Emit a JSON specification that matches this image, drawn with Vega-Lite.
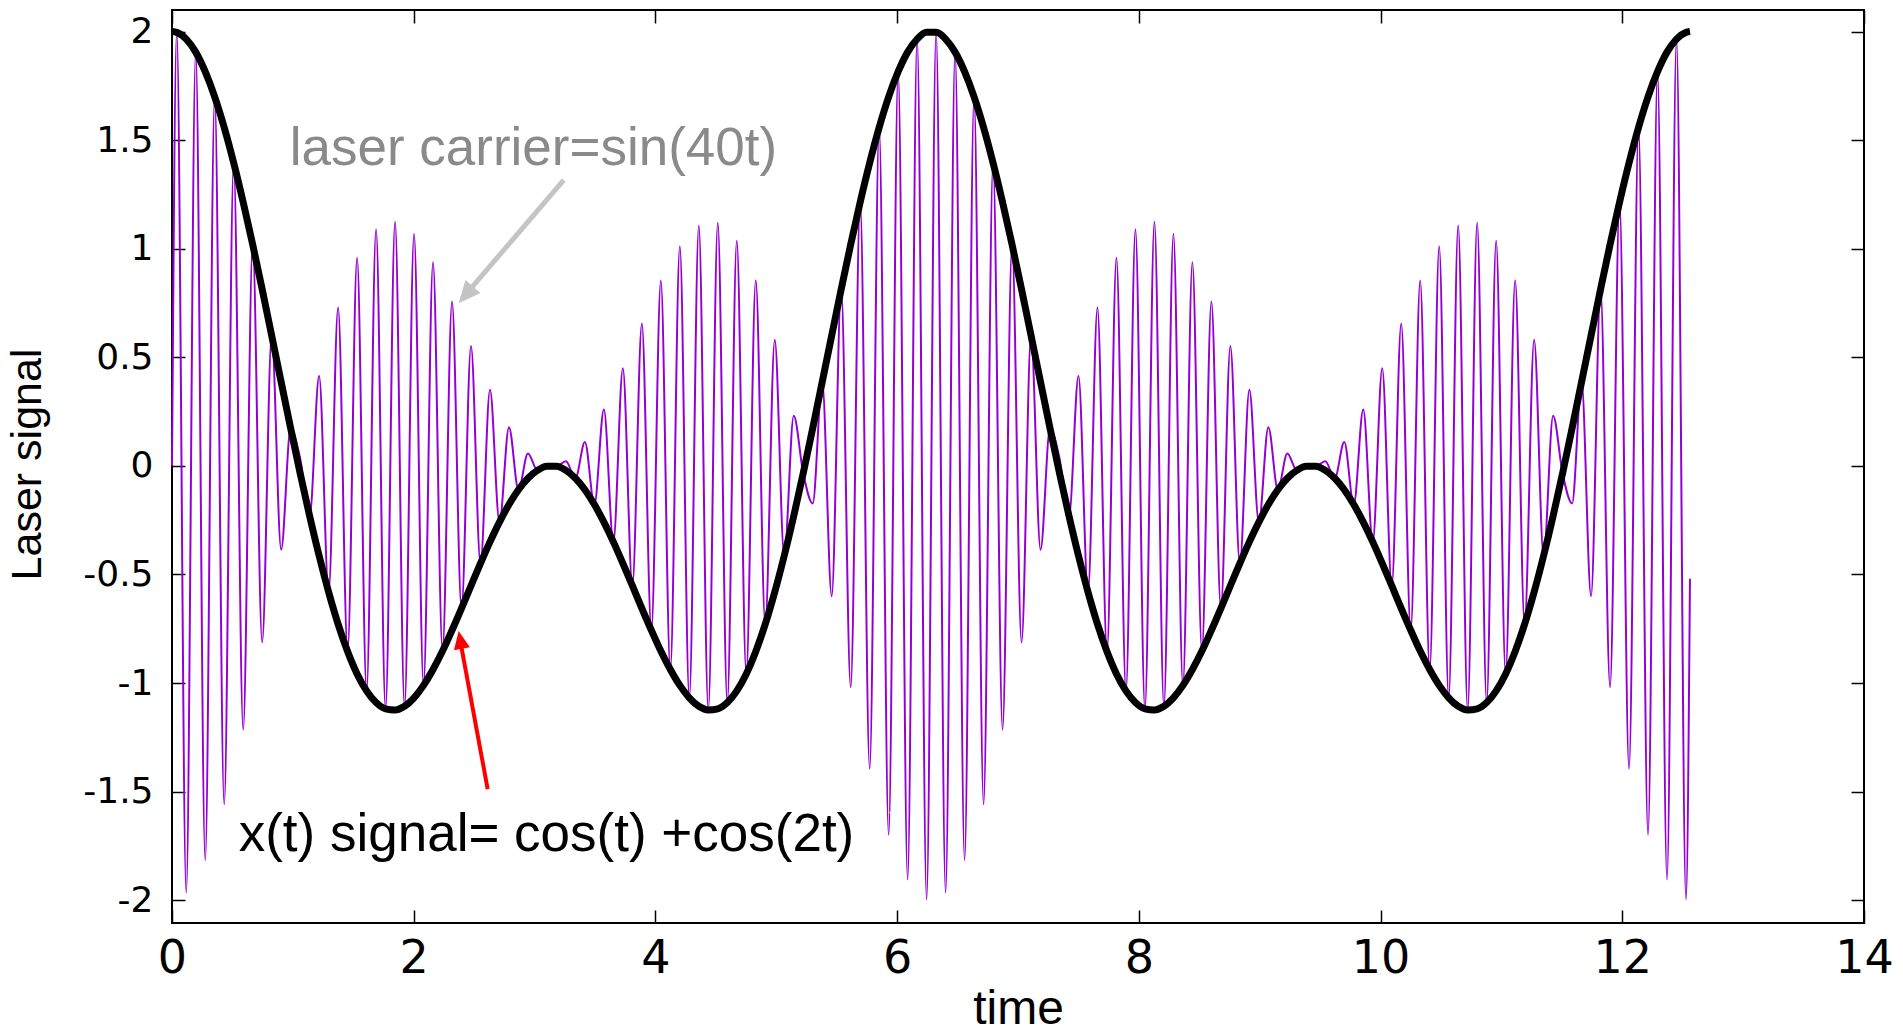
{
  "$schema": "https://vega.github.io/schema/vega-lite/v6.json",
  "width": 1692,
  "height": 913,
  "autosize": {"type": "none"},
  "padding": {"left": 172, "top": 10, "right": 39, "bottom": 111},
  "background": "white",
  "config": {
    "view": {"stroke": "black", "strokeWidth": 2},
    "axis": {"grid": false, "domain": false, "tickColor": "black", "tickWidth": 1.5, "labelColor": "black", "titleColor": "black", "labelFlush": false}
  },
  "datasets": {
    "sig": [
      {"t":0,"e":2,"c":0},
      {"t":0.0393,"e":1.996,"c":1.996},
      {"t":0.1178,"e":1.965,"c":-1.965},
      {"t":0.1963,"e":1.905,"c":1.905},
      {"t":0.2749,"e":1.815,"c":-1.815},
      {"t":0.3534,"e":1.699,"c":1.699},
      {"t":0.432,"e":1.558,"c":-1.558},
      {"t":0.5105,"e":1.395,"c":1.395},
      {"t":0.589,"e":1.214,"c":-1.214},
      {"t":0.6676,"e":1.019,"c":1.019},
      {"t":0.7461,"e":0.813,"c":-0.813},
      {"t":0.8247,"e":0.6,"c":0.6},
      {"t":0.9032,"e":0.386,"c":-0.386},
      {"t":0.9817,"e":0.173,"c":0.173},
      {"t":1.0603,"e":-0.034,"c":0.034},
      {"t":1.1388,"e":-0.231,"c":-0.231},
      {"t":1.2174,"e":-0.414,"c":0.414},
      {"t":1.2959,"e":-0.581,"c":-0.581},
      {"t":1.3744,"e":-0.729,"c":0.729},
      {"t":1.453,"e":-0.855,"c":-0.855},
      {"t":1.5315,"e":-0.958,"c":0.958},
      {"t":1.6101,"e":-1.036,"c":-1.036},
      {"t":1.6886,"e":-1.09,"c":1.09},
      {"t":1.7671,"e":-1.119,"c":-1.119},
      {"t":1.8457,"e":-1.124,"c":1.124},
      {"t":1.9242,"e":-1.107,"c":-1.107},
      {"t":2.0028,"e":-1.068,"c":1.068},
      {"t":2.0813,"e":-1.011,"c":-1.011},
      {"t":2.1598,"e":-0.938,"c":0.938},
      {"t":2.2384,"e":-0.853,"c":-0.853},
      {"t":2.3169,"e":-0.757,"c":0.757},
      {"t":2.3955,"e":-0.656,"c":-0.656},
      {"t":2.474,"e":-0.552,"c":0.552},
      {"t":2.5525,"e":-0.449,"c":-0.449},
      {"t":2.6311,"e":-0.35,"c":0.35},
      {"t":2.7096,"e":-0.259,"c":-0.259},
      {"t":2.7882,"e":-0.178,"c":0.178},
      {"t":2.8667,"e":-0.11,"c":-0.11},
      {"t":2.9452,"e":-0.057,"c":0.057},
      {"t":3.0238,"e":-0.021,"c":-0.021},
      {"t":3.1023,"e":-0.002,"c":0.002},
      {"t":3.1809,"e":-0.002,"c":-0.002},
      {"t":3.2594,"e":-0.021,"c":0.021},
      {"t":3.3379,"e":-0.057,"c":-0.057},
      {"t":3.4165,"e":-0.11,"c":0.11},
      {"t":3.495,"e":-0.178,"c":-0.178},
      {"t":3.5736,"e":-0.259,"c":0.259},
      {"t":3.6521,"e":-0.35,"c":-0.35},
      {"t":3.7306,"e":-0.449,"c":0.449},
      {"t":3.8092,"e":-0.552,"c":-0.552},
      {"t":3.8877,"e":-0.656,"c":0.656},
      {"t":3.9663,"e":-0.757,"c":-0.757},
      {"t":4.0448,"e":-0.853,"c":0.853},
      {"t":4.1233,"e":-0.938,"c":-0.938},
      {"t":4.2019,"e":-1.011,"c":1.011},
      {"t":4.2804,"e":-1.068,"c":-1.068},
      {"t":4.359,"e":-1.107,"c":1.107},
      {"t":4.4375,"e":-1.124,"c":-1.124},
      {"t":4.516,"e":-1.119,"c":1.119},
      {"t":4.5946,"e":-1.09,"c":-1.09},
      {"t":4.6731,"e":-1.036,"c":1.036},
      {"t":4.7517,"e":-0.958,"c":-0.958},
      {"t":4.8302,"e":-0.855,"c":0.855},
      {"t":4.9087,"e":-0.729,"c":-0.729},
      {"t":4.9873,"e":-0.581,"c":0.581},
      {"t":5.0658,"e":-0.414,"c":-0.414},
      {"t":5.1444,"e":-0.231,"c":0.231},
      {"t":5.2229,"e":-0.034,"c":-0.034},
      {"t":5.3014,"e":0.173,"c":-0.173},
      {"t":5.38,"e":0.386,"c":0.386},
      {"t":5.4585,"e":0.6,"c":-0.6},
      {"t":5.5371,"e":0.813,"c":0.813},
      {"t":5.6156,"e":1.019,"c":-1.019},
      {"t":5.6941,"e":1.214,"c":1.214},
      {"t":5.7727,"e":1.395,"c":-1.395},
      {"t":5.8512,"e":1.558,"c":1.558},
      {"t":5.9298,"e":1.699,"c":-1.699},
      {"t":6.0083,"e":1.815,"c":1.815},
      {"t":6.0868,"e":1.905,"c":-1.905},
      {"t":6.1654,"e":1.965,"c":1.965},
      {"t":6.2439,"e":1.996,"c":-1.996},
      {"t":6.3225,"e":1.996,"c":1.996},
      {"t":6.401,"e":1.965,"c":-1.965},
      {"t":6.4795,"e":1.905,"c":1.905},
      {"t":6.5581,"e":1.815,"c":-1.815},
      {"t":6.6366,"e":1.699,"c":1.699},
      {"t":6.7152,"e":1.558,"c":-1.558},
      {"t":6.7937,"e":1.395,"c":1.395},
      {"t":6.8722,"e":1.214,"c":-1.214},
      {"t":6.9508,"e":1.019,"c":1.019},
      {"t":7.0293,"e":0.813,"c":-0.813},
      {"t":7.1079,"e":0.6,"c":0.6},
      {"t":7.1864,"e":0.386,"c":-0.386},
      {"t":7.2649,"e":0.173,"c":0.173},
      {"t":7.3435,"e":-0.034,"c":0.034},
      {"t":7.422,"e":-0.231,"c":-0.231},
      {"t":7.5006,"e":-0.414,"c":0.414},
      {"t":7.5791,"e":-0.581,"c":-0.581},
      {"t":7.6576,"e":-0.729,"c":0.729},
      {"t":7.7362,"e":-0.855,"c":-0.855},
      {"t":7.8147,"e":-0.958,"c":0.958},
      {"t":7.8933,"e":-1.036,"c":-1.036},
      {"t":7.9718,"e":-1.09,"c":1.09},
      {"t":8.0503,"e":-1.119,"c":-1.119},
      {"t":8.1289,"e":-1.124,"c":1.124},
      {"t":8.2074,"e":-1.107,"c":-1.107},
      {"t":8.286,"e":-1.068,"c":1.068},
      {"t":8.3645,"e":-1.011,"c":-1.011},
      {"t":8.443,"e":-0.938,"c":0.938},
      {"t":8.5216,"e":-0.853,"c":-0.853},
      {"t":8.6001,"e":-0.757,"c":0.757},
      {"t":8.6787,"e":-0.656,"c":-0.656},
      {"t":8.7572,"e":-0.552,"c":0.552},
      {"t":8.8357,"e":-0.449,"c":-0.449},
      {"t":8.9143,"e":-0.35,"c":0.35},
      {"t":8.9928,"e":-0.259,"c":-0.259},
      {"t":9.0714,"e":-0.178,"c":0.178},
      {"t":9.1499,"e":-0.11,"c":-0.11},
      {"t":9.2284,"e":-0.057,"c":0.057},
      {"t":9.307,"e":-0.021,"c":-0.021},
      {"t":9.3855,"e":-0.002,"c":0.002},
      {"t":9.4641,"e":-0.002,"c":-0.002},
      {"t":9.5426,"e":-0.021,"c":0.021},
      {"t":9.6211,"e":-0.057,"c":-0.057},
      {"t":9.6997,"e":-0.11,"c":0.11},
      {"t":9.7782,"e":-0.178,"c":-0.178},
      {"t":9.8568,"e":-0.259,"c":0.259},
      {"t":9.9353,"e":-0.35,"c":-0.35},
      {"t":10.0138,"e":-0.449,"c":0.449},
      {"t":10.0924,"e":-0.552,"c":-0.552},
      {"t":10.1709,"e":-0.656,"c":0.656},
      {"t":10.2495,"e":-0.757,"c":-0.757},
      {"t":10.328,"e":-0.853,"c":0.853},
      {"t":10.4065,"e":-0.938,"c":-0.938},
      {"t":10.4851,"e":-1.011,"c":1.011},
      {"t":10.5636,"e":-1.068,"c":-1.068},
      {"t":10.6422,"e":-1.107,"c":1.107},
      {"t":10.7207,"e":-1.124,"c":-1.124},
      {"t":10.7992,"e":-1.119,"c":1.119},
      {"t":10.8778,"e":-1.09,"c":-1.09},
      {"t":10.9563,"e":-1.036,"c":1.036},
      {"t":11.0349,"e":-0.958,"c":-0.958},
      {"t":11.1134,"e":-0.855,"c":0.855},
      {"t":11.1919,"e":-0.729,"c":-0.729},
      {"t":11.2705,"e":-0.581,"c":0.581},
      {"t":11.349,"e":-0.414,"c":-0.414},
      {"t":11.4276,"e":-0.231,"c":0.231},
      {"t":11.5061,"e":-0.034,"c":-0.034},
      {"t":11.5846,"e":0.173,"c":-0.173},
      {"t":11.6632,"e":0.386,"c":0.386},
      {"t":11.7417,"e":0.6,"c":-0.6},
      {"t":11.8203,"e":0.813,"c":0.813},
      {"t":11.8988,"e":1.019,"c":-1.019},
      {"t":11.9773,"e":1.214,"c":1.214},
      {"t":12.0559,"e":1.395,"c":-1.395},
      {"t":12.1344,"e":1.558,"c":1.558},
      {"t":12.213,"e":1.699,"c":-1.699},
      {"t":12.2915,"e":1.815,"c":1.815},
      {"t":12.37,"e":1.905,"c":-1.905},
      {"t":12.4486,"e":1.965,"c":1.965},
      {"t":12.5271,"e":1.996,"c":-1.996},
      {"t":12.56,"e":2,"c":-0.52}
    ]
  },
  "resolve": {"axis": {"x": "independent", "y": "independent"}},
  "layer": [
    {
      "data": {"name": "sig"},
      "mark": {"type": "line", "color": "#9400d3", "strokeWidth": 2, "interpolate": "monotone"},
      "encoding": {
        "x": {"field": "t", "type": "quantitative", "scale": {"domain": [0, 14], "nice": false, "zero": false},
          "axis": {"orient": "bottom", "values": [0, 2, 4, 6, 8, 10, 12, 14], "format": "d", "offset": -13, "tickSize": 13,
            "labelPadding": 49, "labelBaseline": "alphabetic", "labelFont": "DejaVu Sans", "labelFontSize": 46, "labelFlush": false,
            "title": "time", "titleFont": "Liberation Sans", "titleFontSize": 48, "titleFontWeight": "normal",
            "titleX": 846, "titleY": 113, "titleBaseline": "alphabetic", "titleAlign": "center"}},
        "y": {"field": "c", "type": "quantitative", "scale": {"domain": [-2.105, 2.099], "nice": false, "zero": false},
          "axis": {"orient": "left", "values": [-2, -1.5, -1, -0.5, 0, 0.5, 1, 1.5, 2],
            "labelExpr": "datum.value < 0 ? '-' + format(-datum.value, '~g') : format(datum.value, '~g')",
            "offset": -13, "tickSize": 13, "labelPadding": 19, "labelFont": "DejaVu Sans", "labelFontSize": 36, "labelFlush": false,
            "title": "Laser signal", "titleFont": "Liberation Sans", "titleFontSize": 43, "titleFontWeight": "normal",
            "titleAngle": -90, "titleX": -158, "titleY": 454, "titleBaseline": "middle", "titleAlign": "center"}}
      }
    },
    {
      "data": {"name": "sig"},
      "mark": {"type": "line", "color": "black", "strokeWidth": 7, "interpolate": "monotone"},
      "encoding": {
        "x": {"field": "t", "type": "quantitative", "scale": {"domain": [0, 14], "nice": false, "zero": false},
          "axis": {"orient": "top", "values": [0, 2, 4, 6, 8, 10, 12, 14], "labels": false, "offset": -13, "tickSize": 13, "title": null}},
        "y": {"field": "e", "type": "quantitative", "scale": {"domain": [-2.105, 2.099], "nice": false, "zero": false},
          "axis": {"orient": "right", "values": [-2, -1.5, -1, -0.5, 0, 0.5, 1, 1.5, 2], "labels": false, "offset": -13, "tickSize": 13, "title": null}}
      }
    },
    {
      "data": {"values": [{}]},
      "mark": {"type": "rule", "color": "#c4c4c4", "strokeWidth": 5},
      "encoding": {
        "x": {"datum": 3.241, "type": "quantitative", "scale": {"domain": [0, 14], "nice": false, "zero": false}, "axis": null},
        "y": {"datum": 1.316, "type": "quantitative", "scale": {"domain": [-2.105, 2.099], "nice": false, "zero": false}, "axis": null},
        "x2": {"datum": 2.447},
        "y2": {"datum": 0.8}
      }
    },
    {
      "data": {"values": [{}]},
      "mark": {"type": "point", "shape": "M0,0L0.45,1L-0.45,1Z", "filled": true, "color": "#c4c4c4", "opacity": 1, "size": 1936, "angle": 220.5},
      "encoding": {
        "x": {"datum": 2.372, "type": "quantitative", "scale": {"domain": [0, 14], "nice": false, "zero": false}, "axis": null},
        "y": {"datum": 0.749, "type": "quantitative", "scale": {"domain": [-2.105, 2.099], "nice": false, "zero": false}, "axis": null}
      }
    },
    {
      "data": {"values": [{"label": "laser carrier=sin(40t)"}]},
      "mark": {"type": "text", "font": "Liberation Sans", "fontSize": 53, "color": "#8a8a8a", "align": "left", "baseline": "alphabetic"},
      "encoding": {
        "x": {"datum": 0.974, "type": "quantitative", "scale": {"domain": [0, 14], "nice": false, "zero": false}, "axis": null},
        "y": {"datum": 1.385, "type": "quantitative", "scale": {"domain": [-2.105, 2.099], "nice": false, "zero": false}, "axis": null},
        "text": {"field": "label", "type": "nominal"}
      }
    },
    {
      "data": {"values": [{}]},
      "mark": {"type": "rule", "color": "#ff0000", "strokeWidth": 4},
      "encoding": {
        "x": {"datum": 2.612, "type": "quantitative", "scale": {"domain": [0, 14], "nice": false, "zero": false}, "axis": null},
        "y": {"datum": -1.489, "type": "quantitative", "scale": {"domain": [-2.105, 2.099], "nice": false, "zero": false}, "axis": null},
        "x2": {"datum": 2.389},
        "y2": {"datum": -0.817}
      }
    },
    {
      "data": {"values": [{}]},
      "mark": {"type": "point", "shape": "M0,0L0.45,1L-0.45,1Z", "filled": true, "color": "#ff0000", "opacity": 1, "size": 1296, "angle": 349.6},
      "encoding": {
        "x": {"datum": 2.372, "type": "quantitative", "scale": {"domain": [0, 14], "nice": false, "zero": false}, "axis": null},
        "y": {"datum": -0.761, "type": "quantitative", "scale": {"domain": [-2.105, 2.099], "nice": false, "zero": false}, "axis": null}
      }
    },
    {
      "data": {"values": [{"label": "x(t) signal= cos(t) +cos(2t)"}]},
      "mark": {"type": "text", "font": "Liberation Sans", "fontSize": 53, "color": "black", "align": "left", "baseline": "alphabetic"},
      "encoding": {
        "x": {"datum": 0.552, "type": "quantitative", "scale": {"domain": [0, 14], "nice": false, "zero": false}, "axis": null},
        "y": {"datum": -1.775, "type": "quantitative", "scale": {"domain": [-2.105, 2.099], "nice": false, "zero": false}, "axis": null},
        "text": {"field": "label", "type": "nominal"}
      }
    },
    {
      "data": {"values": [{"label": ")"}]},
      "mark": {"type": "text", "font": "Liberation Sans", "fontSize": 53, "color": "white", "align": "left", "baseline": "alphabetic"},
      "encoding": {
        "x": {"datum": 5.93, "type": "quantitative", "scale": {"domain": [0, 14], "nice": false, "zero": false}, "axis": null},
        "y": {"datum": -1.775, "type": "quantitative", "scale": {"domain": [-2.105, 2.099], "nice": false, "zero": false}, "axis": null},
        "text": {"field": "label", "type": "nominal"}
      }
    }
  ]
}
